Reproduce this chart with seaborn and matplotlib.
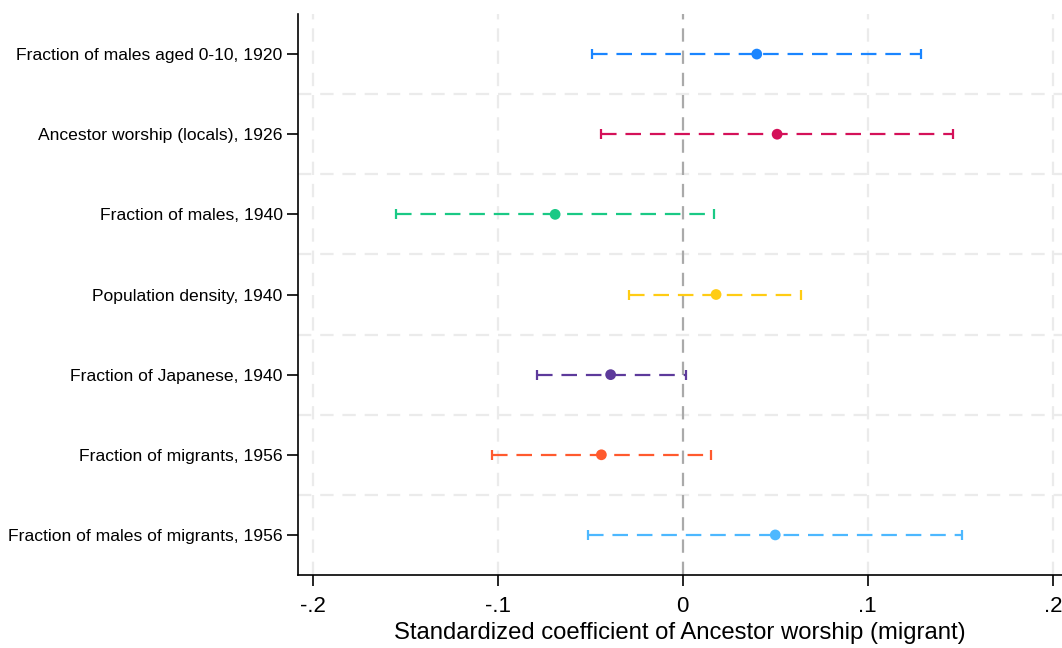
"""Coefficient plot: standardized coefficient of ancestor worship (migrant)."""

import matplotlib

matplotlib.use("Agg")
import matplotlib.pyplot as plt
import pandas as pd
import seaborn as sns

labels = [
    "Fraction of males aged 0-10, 1920",
    "Ancestor worship (locals), 1926",
    "Fraction of males, 1940",
    "Population density, 1940",
    "Fraction of Japanese, 1940",
    "Fraction of migrants, 1956",
    "Fraction of males of migrants, 1956",
]
coef = [0.040, 0.051, -0.069, 0.018, -0.039, -0.044, 0.050]
ci_low = [-0.049, -0.044, -0.155, -0.029, -0.079, -0.103, -0.051]
ci_high = [0.129, 0.146, 0.017, 0.064, 0.002, 0.015, 0.151]
colors = ["#1A85FF", "#D41159", "#1AC985", "#FFCC14", "#5D3A9B", "#FF5A2E", "#4DB8FF"]
xticks = [-0.2, -0.1, 0, 0.1, 0.2]
xtick_labels = ["-.2", "-.1", "0", ".1", ".2"]

df = pd.DataFrame({"label": labels, "coef": coef, "low": ci_low, "high": ci_high})

sns.set_style("white")
plt.rcParams["font.family"] = ["Liberation Sans", "DejaVu Sans"]
plt.rcParams["text.color"] = "black"
plt.rcParams["axes.labelcolor"] = "black"
plt.rcParams["xtick.color"] = "black"
plt.rcParams["ytick.color"] = "black"

fig = plt.figure(figsize=(10.62, 6.48), dpi=100)
ax = fig.add_axes([298 / 1062, 73 / 648, 764 / 1062, 561 / 648])

# background grid
for x in [-0.2, -0.1, 0.1, 0.2]:
    ax.axvline(x, color="#EBEBEB", lw=1.6, ls=(0, (6, 4)), zorder=0)
for i in range(len(labels) - 1):
    ax.axhline(i + 0.5, color="#EBEBEB", lw=1.6, ls=(0, (6, 4)), zorder=0)
ax.axvline(0, color="#AAAAAA", lw=1.6, ls=(0, (6, 4)), zorder=1)

# confidence intervals
for i, row in df.iterrows():
    c = colors[i]
    ax.hlines(i, row["low"], row["high"], color=c, lw=1.6, linestyles=(0, (7, 4)), zorder=2)
    ax.plot([row["low"], row["high"]], [i, i], ls="none", marker="|", ms=7, mew=1.6, color=c, zorder=2)

sns.scatterplot(
    data=df, x="coef", y="label", hue="label", palette=colors,
    s=60, edgecolor="none", legend=False, ax=ax, zorder=3,
)

ax.set_xlim(-0.208, 0.205)
ax.set_ylim(len(labels) - 0.5, -0.5)
ax.set_xticks(xticks)
ax.set_xticklabels(xtick_labels, fontsize=16)
ax.set_yticks(range(len(labels)))
ax.set_yticklabels(labels, fontsize=12.6)
ax.set_xlabel("Standardized coefficient of Ancestor worship (migrant)", fontsize=17.2, labelpad=4)
ax.set_ylabel("")

sns.despine(ax=ax, top=True, right=True)
for side in ["left", "bottom"]:
    ax.spines[side].set_color("black")
    ax.spines[side].set_linewidth(1.2)
ax.tick_params(axis="both", direction="out", length=8, width=1.2, color="black", left=True, bottom=True)
ax.tick_params(axis="y", pad=3)
ax.tick_params(axis="x", pad=7)

fig.savefig("out.png", dpi=100)
